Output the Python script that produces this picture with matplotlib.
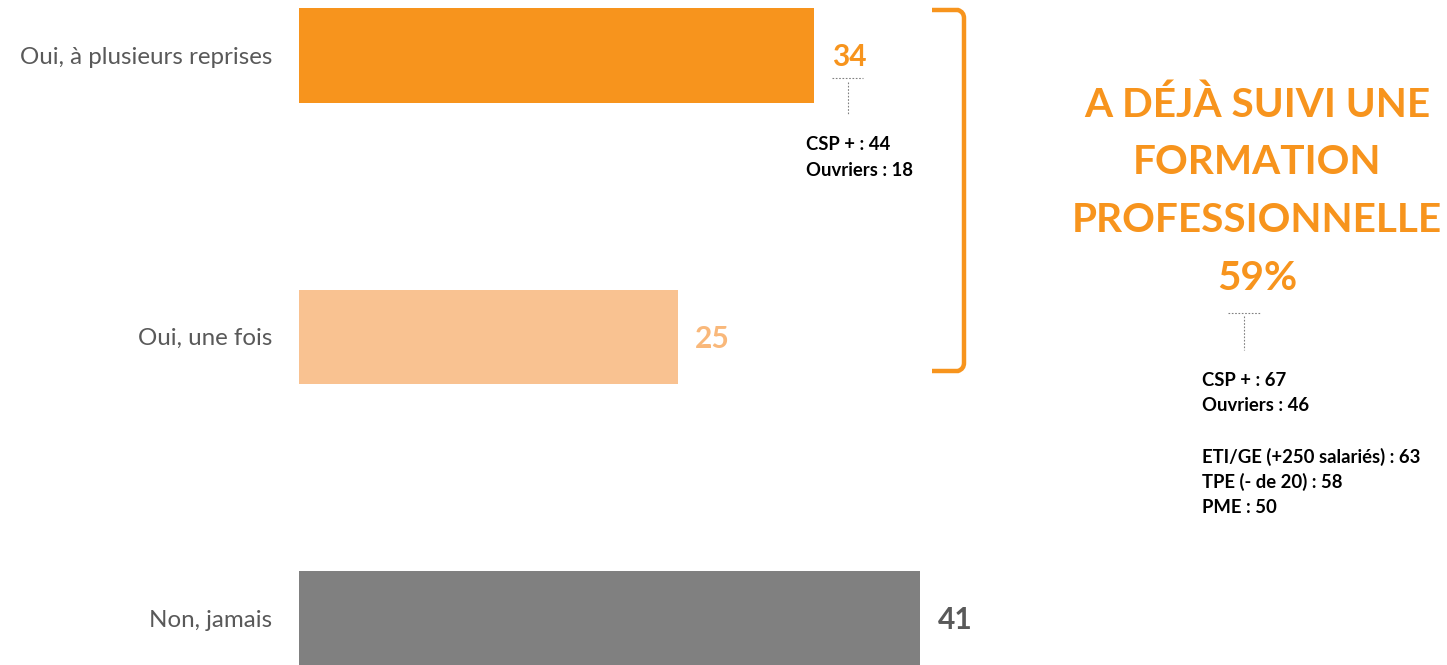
import numpy as np
from matplotlib import pyplot as plt
from matplotlib.path import Path
from matplotlib.patches import PathPatch

plt.rcParams['font.family'] = ['Lato', 'DejaVu Sans']

categories = ['Oui, à plusieurs reprises', 'Oui, une fois', 'Non, jamais']
values = [34, 25, 41]
bar_colors = ['#F7941D', '#F9C291', '#808080']
label_colors = ['#F7941D', '#F9B87A', '#595959']

callout_bar = ['CSP + : 44', 'Ouvriers : 18']
headline = ['A DÉJÀ SUIVI UNE', 'FORMATION', 'PROFESSIONNELLE', '59%']
callout_total = ['CSP + : 67', 'Ouvriers : 46', '', 'ETI/GE (+250 salariés) : 63',
                 'TPE (- de 20) : 58', 'PME : 50']

W, H = 1447, 665
fig = plt.figure(figsize=(W / 100, H / 100), dpi=100)

# bar axes: starts at x=299px, 15.15 px per point
px_per_unit = 15.15
ax = fig.add_axes([299 / W, 0, 1 - 299 / W, 1])
ax.set_xlim(0, (W - 299) / px_per_unit)
spacing = 281.5
ax.set_ylim(2 + (H - 618.5) / spacing, -55.5 / spacing)
ax.axis('off')

y = np.arange(len(values))
ax.barh(y, values, height=0.337, color=bar_colors)
for yi, v, c, cat in zip(y, values, label_colors, categories):
    ax.text(v + 1.15, yi + 0.006, str(v), color=c, fontsize=21.5, fontweight='bold',
            va='center', ha='left')
    ax.text(-27 / px_per_unit, yi + 0.006, cat, color='#595959', fontsize=17.4,
            va='center', ha='right')

# overlay in pixel coordinates
ov = fig.add_axes([0, 0, 1, 1])
ov.set_xlim(0, W)
ov.set_ylim(H, 0)
ov.axis('off')

# bracket
verts = [(932, 10), (958, 10), (964, 12), (964, 18), (964, 363), (964, 369), (958, 371), (932, 371)]
codes = [Path.MOVETO, Path.LINETO, Path.CURVE3, Path.CURVE3, Path.LINETO,
         Path.CURVE3, Path.CURVE3, Path.LINETO]
ov.add_patch(PathPatch(Path(verts, codes), fill=False, edgecolor='#F7941D', lw=3.2))

# dotted leaders
dot_kw = dict(color='#808080', lw=0.8, ls=(0, (1.5, 1.5)))
ov.plot([832, 863], [78, 78], **dot_kw)
ov.plot([848, 848], [82, 115], **dot_kw)
ov.plot([1228, 1260], [313, 313], **dot_kw)
ov.plot([1244, 1244], [316, 350], **dot_kw)

for i, line in enumerate(callout_bar):
    ov.text(806, 145 + i * 25.5, line, fontsize=13.3, fontweight='bold',
            color='black', va='center', ha='left')

for i, line in enumerate(headline):
    ov.text(1257, 105 + i * 58, line, fontsize=29.2, fontweight='bold',
            color='#F7941D', va='center', ha='center')

for i, line in enumerate(callout_total):
    ov.text(1202, 380 + i * 25.5, line, fontsize=13.3, fontweight='bold',
            color='black', va='center', ha='left')

fig.savefig('out.png', dpi=100)
